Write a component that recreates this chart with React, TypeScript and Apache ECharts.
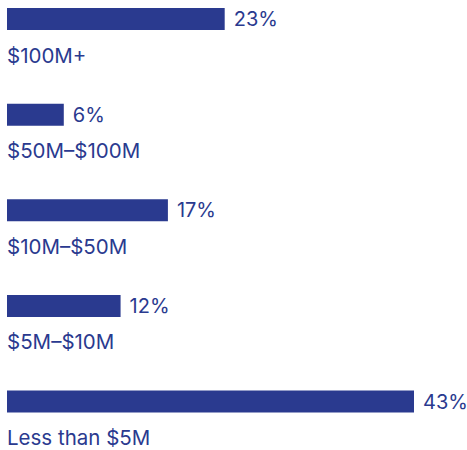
import React, { useEffect, useRef } from "react";
import * as echarts from "echarts";

const categories = ["$100M+", "$50M–$100M", "$10M–$50M", "$5M–$10M", "Less than $5M"];
const values = [23, 6, 17, 12, 43];

const COLOR = "#2a3a8f";
const FONT = "Inter";

export default function App() {
  const ref = useRef<HTMLDivElement>(null);
  useEffect(() => {
    if (!ref.current) return;
    const chart = echarts.init(ref.current, null, { renderer: "svg" });
    chart.setOption({
      animation: false,
      grid: { left: 7, right: 53, top: 19, bottom: 48.5, containLabel: false },
      xAxis: { type: "value", min: 0, max: 43, show: false },
      yAxis: {
        type: "category",
        data: categories,
        inverse: true,
        boundaryGap: false,
        show: false,
      },
      series: [
        {
          type: "bar",
          data: values,
          barWidth: 22,
          itemStyle: { color: COLOR },
          label: {
            show: true,
            position: "right",
            distance: 9,
            formatter: "{c}%",
            color: COLOR,
            fontFamily: FONT,
            fontSize: 20,
          },
        },
        {
          type: "bar",
          data: values,
          barWidth: 22,
          barGap: "-100%",
          itemStyle: { color: "transparent" },
          label: {
            show: true,
            position: [0, 47],
            formatter: (p: any) => categories[p.dataIndex],
            color: COLOR,
            fontFamily: FONT,
            fontSize: 20.5,
            verticalAlign: "middle",
            align: "left",
          },
        },
      ],
    });
    return () => chart.dispose();
  }, []);
  return <div ref={ref} style={{ width: 467, height: 450, position: "absolute", left: 0, top: 0 }} />;
}
